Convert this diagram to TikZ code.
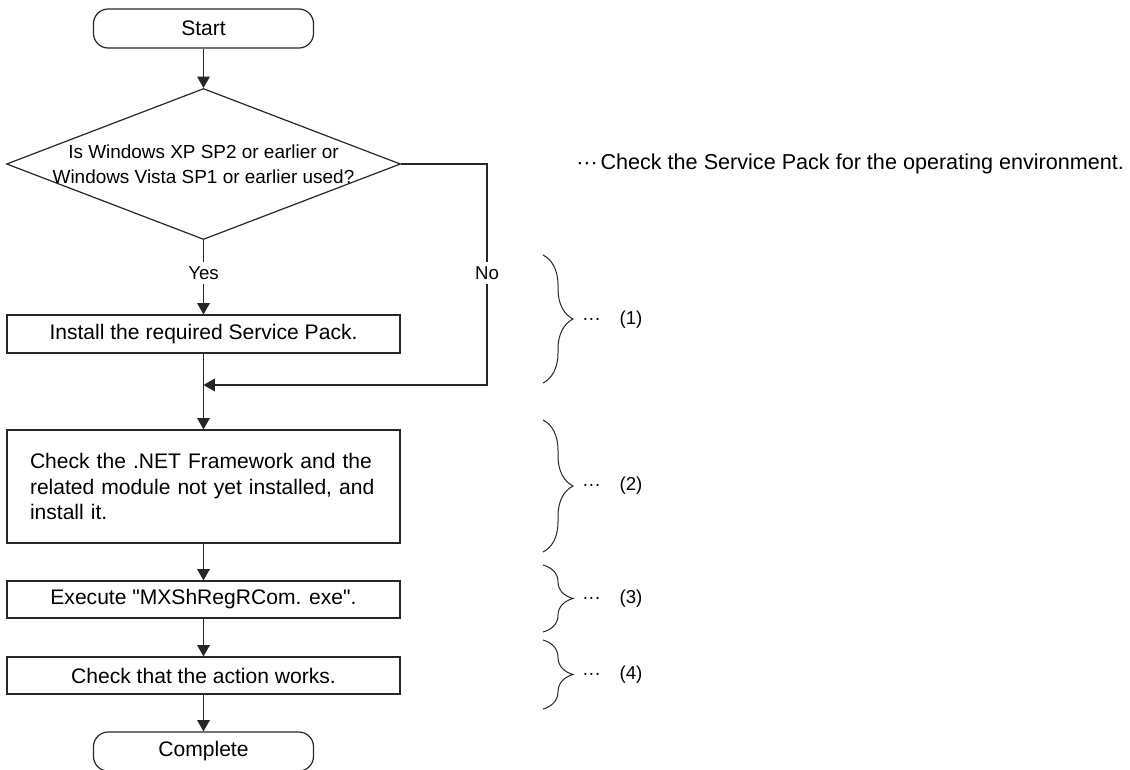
\documentclass[tikz,border=0pt]{standalone}
\usepackage{fontspec}
\setmainfont{Liberation Sans}[Ligatures=TeXOff]
\usetikzlibrary{arrows.meta,shapes.geometric,decorations.pathreplacing}
\begin{document}
\begin{tikzpicture}[x=0.75pt,y=-0.75pt,
  line/.style={line width=0.9pt, draw=black!85},
  arr/.style={line, -{Triangle[length=8.5pt,width=9.5pt]}},
  bigtext/.style={font=\fontsize{15.8}{19}\selectfont},
  term/.style={draw=black!85, line width=0.9pt, rounded corners=11pt, minimum width=165pt, minimum height=29.25pt, inner sep=0pt, bigtext},
  proc/.style={draw=black!85, line width=0.9pt, minimum width=294.75pt, inner sep=0pt, bigtext},
  lab/.style={font=\fontsize{14}{17}\selectfont, inner sep=3pt},
  bracestyle/.style={line width=0.75pt, draw=black!85, decorate, decoration={brace, amplitude=22.5pt}},
  note/.style={anchor=west, font=\fontsize{14}{17}\selectfont, inner sep=0pt}
]
\useasboundingbox (0,0) rectangle (1130,769);

% flow nodes
\node[term] (start) at (203.5,28.5) {Start};
\node[diamond, draw=black!85, line width=0.9pt, aspect=2.6, minimum width=295.5pt, minimum height=113.25pt, inner sep=0pt] (dec) at (203.5,164) {};
\node[font=\fontsize{14.2}{18.75}\selectfont, align=center, inner sep=0pt] (dectext) at (203.5,164.5) {Is Windows XP SP2 or earlier or\\Windows Vista SP1 or earlier used?};
\node[lab] (yes) at (203.5,273) {Yes};
\node[proc, minimum height=28.5pt] (inst) at (203.5,334) {Install the required Service Pack.};
\node[lab, fill=white] (no) at (487,273) {No};
\coordinate (nr) at (487,164);
\coordinate (nb) at (487,385);
\coordinate (m) at (203.5,385);
\node[proc, minimum height=84.75pt, text width=260.25pt, inner xsep=17.25pt, align=left] (net) at (203.5,486.5) {Check the .NET Framework and the\\related module not yet installed, and\\install it.};
\node[proc, minimum height=27.75pt] (exe) at (203.5,599.5) {Execute "MXShRegRCom. exe".};
\node[proc, minimum height=27.75pt] (chk) at (203.5,675.5) {Check that the action works.};
\node[term] (comp) at (203.5,751.5) {Complete};

% connectors
\draw[arr] (start) -- (dec.north);
\draw[line] (dec.south) -- (yes.north);
\draw[arr] (yes.south) -- (inst.north);
\draw[line] (dec.east) -- (nr) -- (no.north);
\draw[arr] (no.south) -- (nb) -- (m);
\draw[arr] (inst.south) -- (net.north);
\draw[arr] (net.south) -- (exe.north);
\draw[arr] (exe.south) -- (chk.north);
\draw[arr] (chk.south) -- (comp.north);

% annotation
\node[anchor=west, font=\fontsize{16.2}{19}\selectfont, inner sep=0pt] (top) at (576,164) {···\hspace{2pt}Check the Service Pack for the operating environment.};

% braces
\coordinate (b1t) at (543,255); \coordinate (b1b) at (543,383);
\coordinate (b2t) at (543,420); \coordinate (b2b) at (543,552);
\coordinate (b3t) at (543,565); \coordinate (b3b) at (543,632);
\coordinate (b4t) at (543,640); \coordinate (b4b) at (543,709);
\draw[bracestyle] (b1t) -- (b1b);
\draw[bracestyle] (b2t) -- (b2b);
\draw[bracestyle] (b3t) -- (b3b);
\draw[bracestyle] (b4t) -- (b4b);
\node[note] (n1) at (582,320) {···\hspace{14pt}(1)};
\node[note] (n2) at (582,486) {···\hspace{14pt}(2)};
\node[note] (n3) at (582,598.5) {···\hspace{14pt}(3)};
\node[note] (n4) at (582,674.5) {···\hspace{14pt}(4)};
\end{tikzpicture}
\end{document}
